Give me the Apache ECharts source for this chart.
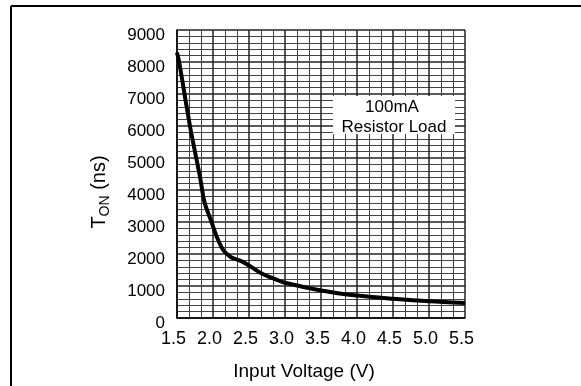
<!DOCTYPE html>
<html>
<head>
<meta charset="utf-8">
<script src="https://cdn.jsdelivr.net/npm/echarts@6/dist/echarts.min.js"></script>
<style>
html,body{margin:0;padding:0;background:#fff;}
#main{width:581px;height:386px;}
</style>
</head>
<body>
<div id="main"></div>
<script>
// 曲线数据
var voltage = [1.5, 1.53, 1.68, 1.82, 1.885, 1.98, 2.05, 2.14, 2.25, 2.4, 2.5, 2.67, 2.88, 3.0, 3.5, 4.0, 4.5, 5.0, 5.5];
var tonNs = [8300, 8000, 6000, 4400, 3590, 3000, 2550, 2130, 1900, 1770, 1640, 1400, 1200, 1100, 860, 700, 600, 520, 470];
var xTicks = ['1.5', '2.0', '2.5', '3.0', '3.5', '4.0', '4.5', '5.0', '5.5'];
var yTicks = ['0', '1000', '2000', '3000', '4000', '5000', '6000', '7000', '8000', '9000'];
var noteLines = ['100mA', 'Resistor Load'];

var font = '"Liberation Sans", Arial, sans-serif';
var pts = voltage.map(function (v, i) { return [v, tonNs[i]]; });

var myChart = echarts.init(document.getElementById('main'), null, {renderer: 'canvas'});
var option = {
    backgroundColor: '#fff',
    animation: false,
    grid: {left: 177, top: 30, width: 288, height: 288, show: false},
    xAxis: {
        type: 'value', min: 1.5, max: 5.5, interval: 0.5,
        axisLine: {show: true, lineStyle: {color: '#000', width: 1.5}},
        axisTick: {show: false},
        axisLabel: {
            color: '#000', fontFamily: font, fontSize: 18, margin: 12,
            padding: [0, 7, 0, 0],
            formatter: function (v) {
                var s = v.toFixed(1);
                return xTicks.indexOf(s) >= 0 ? s : '';
            }
        },
        splitLine: {show: true, lineStyle: {color: '#222', width: 1.5}},
        minorTick: {show: false, splitNumber: 3},
        minorSplitLine: {show: true, lineStyle: {color: '#444', width: 1}}
    },
    yAxis: {
        type: 'value', min: 0, max: 9000, interval: 1000,
        axisLine: {show: true, lineStyle: {color: '#000', width: 1.5}},
        axisTick: {show: false},
        axisLabel: {
            color: '#000', fontFamily: font, fontSize: 17, margin: 12,
            verticalAlign: 'top', lineHeight: 11,
            formatter: function (v) { return yTicks[Math.round(v / 1000)]; }
        },
        splitLine: {show: true, lineStyle: {color: '#222', width: 1.5}},
        minorTick: {show: false, splitNumber: 5},
        minorSplitLine: {show: true, lineStyle: {color: '#444', width: 1}}
    },
    series: [{
        type: 'line',
        data: pts,
        smooth: 0.3,
        showSymbol: false,
        lineStyle: {color: '#000', width: 4},
        z: 5
    }],
    graphic: [
        // 外框 (只露出左边和上边)
        {type: 'line', shape: {x1: 11, y1: 6, x2: 581, y2: 6}, style: {stroke: '#000', lineWidth: 2}},
        {type: 'line', shape: {x1: 11, y1: 6, x2: 11, y2: 386}, style: {stroke: '#000', lineWidth: 2}},
        // 标注框
        {type: 'rect', shape: {x: 333, y: 96, width: 122, height: 38}, style: {fill: '#fff'}, z: 10},
        {type: 'text', x: 392, y: 107, z: 11,
            style: {text: noteLines[0], font: '17px ' + font, fill: '#000', textAlign: 'center', textVerticalAlign: 'middle'}},
        {type: 'text', x: 394, y: 127, z: 11,
            style: {text: noteLines[1], font: '17px ' + font, fill: '#000', textAlign: 'center', textVerticalAlign: 'middle'}},
        // 坐标轴名称
        {type: 'text', x: 304, y: 372, z: 11,
            style: {text: 'Input Voltage (V)', font: '19px ' + font, fill: '#000', textAlign: 'center', textVerticalAlign: 'middle'}},
        {type: 'text', x: 98, y: 192, rotation: Math.PI / 2, z: 11,
            style: {
                text: '{t|T}{s|ON}{t| (ns)}',
                textAlign: 'center', textVerticalAlign: 'middle',
                rich: {
                    t: {font: '20px ' + font, fill: '#000', lineHeight: 22, verticalAlign: 'bottom'},
                    s: {font: '14px ' + font, fill: '#000', lineHeight: 22, verticalAlign: 'bottom', padding: [0, 0, -3, 0]}
                }
            }}
    ]
};
myChart.setOption(option);
</script>
</body>
</html>
